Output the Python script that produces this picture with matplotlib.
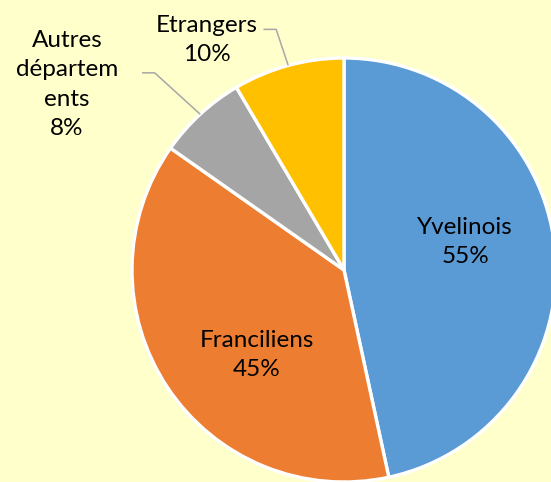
import numpy as np
import matplotlib.pyplot as plt

# Origine des visiteurs
labels = ['Yvelinois', 'Franciliens', 'Autres\ndépartem\nents', 'Etrangers']
values = [55, 45, 8, 10]
colors = ['#5B9BD5', '#ED7D31', '#A5A5A5', '#FFC000']

bg = '#FFFFCC'
fig = plt.figure(figsize=(5.51, 4.82), dpi=100, facecolor=bg)
ax = fig.add_axes([0, 0, 1, 1])
ax.set_facecolor(bg)

wedges, _ = ax.pie(values, colors=colors, startangle=90, counterclock=False,
                   radius=1, wedgeprops=dict(edgecolor='white', linewidth=2.4))

# axes limits so the pie sits like in the original (partly cut off right/bottom)
R = 212.0
cx, cy = 344, 270
ax.set_xlim(-cx / R, (551 - cx) / R)
ax.set_ylim(-(482 - cy) / R, cy / R)
ax.set_aspect('equal')
ax.axis('off')

font = dict(family=['Lato', 'DejaVu Sans'], fontsize=17.5, color='black',
            ha='center', va='center', linespacing=1.5)

# labels inside
inside_pos = {0: (0.571, 0.133), 1: (-0.41, -0.40)}
for i, (x, y) in inside_pos.items():
    ax.text(x, y, f'{labels[i]}\n{values[i]}%', **font)

# labels outside with leader lines
outside = {2: ((-1.307, 0.875), (-0.953, 0.93)),
           3: ((-0.646, 1.085), (-0.38, 1.135))}
for i, ((tx, ty), (lx, ly)) in outside.items():
    ax.text(tx, ty, f'{labels[i]}\n{values[i]}%', **font)
    w = wedges[i]
    mid = np.deg2rad((w.theta1 + w.theta2) / 2)
    ex, ey = np.cos(mid), np.sin(mid)
    ax.plot([lx, lx + 0.06, ex], [ly, ly, ey], color='#A6A6A6', lw=1.1,
            solid_capstyle='butt')

fig.savefig('out.png', dpi=100, facecolor=bg)
